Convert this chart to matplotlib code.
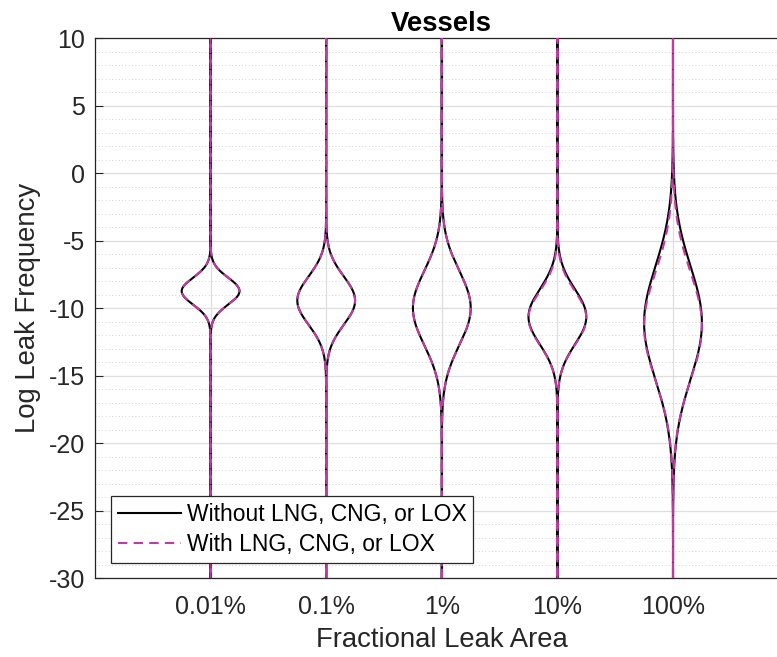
import numpy as np
import matplotlib
matplotlib.use("Agg")
import matplotlib.pyplot as plt
from matplotlib.ticker import MultipleLocator

plt.rcParams['font.family'] = ['Liberation Sans', 'DejaVu Sans']
plt.rcParams['axes.unicode_minus'] = False

# leak area categories and log10 leak-frequency distributions (mean, std)
categories = ['0.01%', '0.1%', '1%', '10%', '100%']
mean_without = [-8.75, -9.45, -10.0, -10.65, -11.1]
std_without = [1.0, 1.8, 2.75, 2.05, 4.2]
mean_with = [-8.75, -9.45, -10.0, -10.75, -11.35]
std_with = [1.0, 1.8, 2.75, 2.0, 4.0]

y_lo, y_hi = -30, 10
half_width = 0.25
dark = '#262626'
magenta = '#c03ca2'

fig = plt.figure(figsize=(7.77, 6.57), dpi=100)
ax = fig.add_axes([95 / 777, 79 / 657, 693.6 / 777, 540 / 657])

yy = np.linspace(y_lo, y_hi, 2001)


def violin(pos, mu, sd, **kw):
    w = half_width * np.exp(-0.5 * ((yy - mu) / sd) ** 2)
    xs = np.concatenate([pos + w, (pos - w)[::-1]])
    ys = np.concatenate([yy, yy[::-1]])
    return ax.plot(xs, ys, **kw)[0]


positions = np.arange(1, len(categories) + 1)
for i, p in enumerate(positions):
    h1 = violin(p, mean_without[i], std_without[i], color='black', lw=1.5, zorder=3)
    h2 = violin(p, mean_with[i], std_with[i], color=magenta, lw=1.5,
                ls=(0, (4.5, 3)), zorder=4)

ax.set_xlim(0, len(categories) + 1)
ax.set_ylim(y_lo, y_hi)
ax.set_xticks(positions)
ax.set_xticklabels(categories)
ax.yaxis.set_major_locator(MultipleLocator(5))
ax.yaxis.set_minor_locator(MultipleLocator(1))

ax.grid(True, which='major', color='#dedede', lw=0.9, zorder=0)
ax.grid(True, which='minor', axis='y', color='#c4c4c4', lw=0.6, ls=(0, (1, 3)), zorder=0)
ax.set_axisbelow(True)

ax.tick_params(axis='both', which='major', direction='in', length=6, width=0.8,
               colors=dark, labelsize=18)
ax.tick_params(axis='y', which='minor', length=0)
ax.tick_params(axis='x', pad=12)
ax.tick_params(axis='y', pad=7)
for s in ax.spines.values():
    s.set_color(dark)
    s.set_linewidth(0.9)

ax.set_xlabel('Fractional Leak Area', fontsize=19.8, color=dark, labelpad=6)
ax.set_ylabel('Log Leak Frequency', fontsize=19.8, color=dark, labelpad=6)
ax.set_title('Vessels', fontsize=19.8, fontweight='bold', color='black', pad=5)

leg = ax.legend([h1, h2], ['Without LNG, CNG, or LOX', 'With LNG, CNG, or LOX'],
                loc='lower left', bbox_to_anchor=(0.023, 0.028), borderaxespad=0,
                fontsize=16.5, handlelength=2.75, handletextpad=0.25,
                labelspacing=0.3, borderpad=0.3, fancybox=False, framealpha=1,
                edgecolor=dark)
leg.get_frame().set_linewidth(0.9)
for t in leg.get_texts():
    t.set_color('black')

fig.savefig('out.png', dpi=100)
